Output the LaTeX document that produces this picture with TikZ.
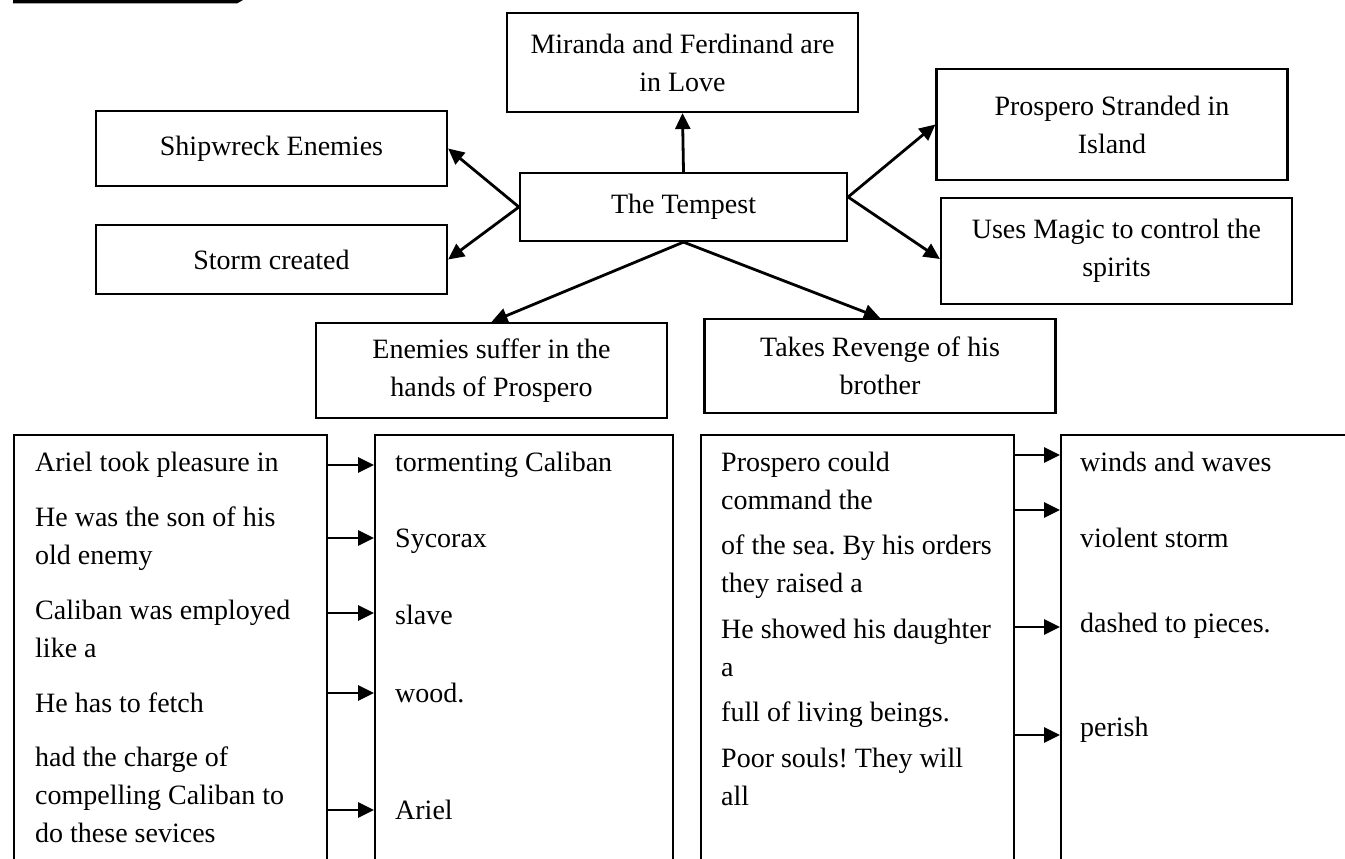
\documentclass[tikz,border=0pt]{standalone}
\usepackage{fontspec}
\setmainfont{Liberation Serif}
\usetikzlibrary{arrows.meta}
\frenchspacing

\begin{document}
\begin{tikzpicture}[x=1pt,y=-1pt,
    box/.style={draw, line width=2.2pt, inner sep=0pt, align=center, minimum width=351pt},
    col/.style={draw, line width=2.2pt, anchor=north west, minimum height=600pt},
    txt/.style={anchor=base west, inner sep=0pt, align=left},
    arr/.style={line width=2.8pt, -{Triangle[length=16pt,width=15pt]}},
    font=\fontsize{28}{38}\selectfont]
      \useasboundingbox (0,0) rectangle (1345,859);
      \fill (13,0) -- (243,0) -- (237,3.5) -- (13,3.5) -- cycle;

      \node (T) at (683.5,207) [box, minimum width=327pt, minimum height=68pt] {The Tempest};
      \node (M) at (682.5,62.5) [box, minimum height=99pt] {Miranda and Ferdinand are\\in Love};
      \node (SE) at (271.5,148.5) [box, minimum height=75pt] {Shipwreck Enemies};
      \node (SC) at (271.5,259.5) [box, minimum height=69pt] {Storm created};
      \node (PS) at (1112,124.5) [box, minimum height=111pt] {Prospero Stranded in\\Island};
      \node (UM) at (1116.5,251) [box, minimum height=106pt] {Uses Magic to control the\\spirits};
      \node (ES) at (491.5,370.5) [box, minimum height=95pt] {Enemies suffer in the\\hands of Prospero};
      \node (TR) at (880,366) [box, minimum height=94pt] {Takes Revenge of his\\brother};

      \draw[arr] (T.north) to (M.south);
      \draw[arr] (T.west) to (SE.east);
      \draw[arr] (T.west) to (SC.east);
      \draw[arr] ([yshift=10pt]T.east) to (PS.west);
      \draw[arr] ([yshift=10pt]T.east) to ([yshift=-8pt]UM.west);
      \draw[arr] (T.south) to (ES.north);
      \draw[arr] (T.south) to (TR.north);

      \node (B1) at (13,434) [col, minimum width=313pt] {};
      \node (B2) at (374,434) [col, minimum width=298pt] {};
      \node (B3) at (700,434) [col, minimum width=313pt] {};
      \node (B4) at (1060,434) [col, minimum width=400pt] {};

      % multi-line texts sit on the baseline of their last line
      \node (a1) at (35,471) [txt] {Ariel took pleasure in};
      \node (a2) at (35,564) [txt] {He was the son of his\\old enemy};
      \node (a3) at (35,657) [txt] {Caliban was employed\\like a};
      \node (a4) at (35,712) [txt] {He has to fetch};
      \node (a5) at (35,842) [txt] {had the charge of\\compelling Caliban to\\do these sevices};

      \node (b1) at (395,471) [txt] {tormenting Caliban};
      \node (b2) at (395,547) [txt] {Sycorax};
      \node (b3) at (395,624) [txt] {slave};
      \node (b4) at (395,702) [txt] {wood.};
      \node (b5) at (395,819) [txt] {Ariel};

      \node (c1) at (721,509) [txt] {Prospero could\\command the};
      \node (c2) at (721,592) [txt] {of the sea. By his orders\\they raised a};
      \node (c3) at (721,676) [txt] {He showed his daughter\\a};
      \node (c4) at (721,721) [txt] {full of living beings.};
      \node (c5) at (721,805) [txt] {Poor souls! They will\\all};

      \node (d1) at (1080,471) [txt] {winds and waves};
      \node (d2) at (1080,547) [txt] {violent storm};
      \node (d3) at (1080,632) [txt] {dashed to pieces.};
      \node (d4) at (1080,736) [txt] {perish};

      \foreach \y in {465,538,613,693,810}
        \draw[arr] (B1.east |- 0,\y) to (B2.west |- 0,\y);
      \foreach \y in {455,510,627,735}
        \draw[arr] (B3.east |- 0,\y) to (B4.west |- 0,\y);

    \end{tikzpicture}
\end{document}
